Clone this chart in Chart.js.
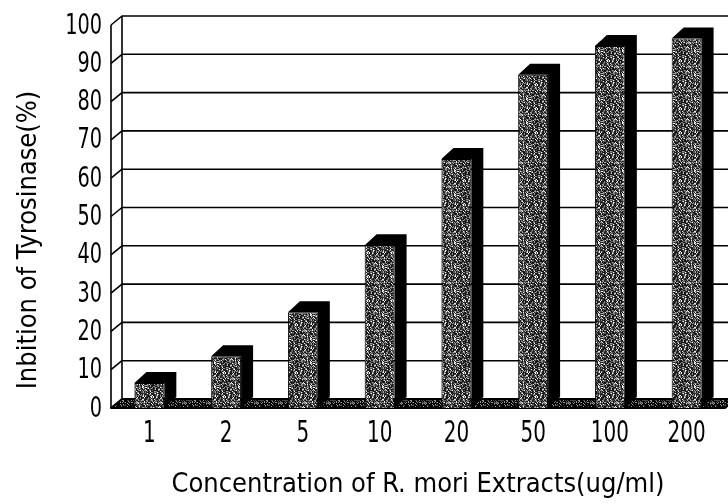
<!DOCTYPE html>
<html>
<head>
<meta charset="utf-8">
<script src="https://cdn.jsdelivr.net/npm/chart.js@4.4.0/dist/chart.umd.min.js"></script>
<style>
    html, body { margin: 0; padding: 0; background: #fff; }
    #wrap { width: 728px; height: 504px; position: relative; }
</style>
</head>
<body>
<div id="wrap"><canvas id="tyrosinase-chart"></canvas></div>
<script>
"use strict";

// data
const concentration_labels = ['1', '2', '5', '10', '20', '50', '100', '200'];
const inhibition_values = [6.5, 13.5, 25, 42.5, 65, 87, 94.5, 96.5];
const y_min = 0;
const y_max = 100;
const y_step = 10;
const x_title = 'Concentration of R. mori Extracts(ug/ml)';
const y_title = 'Inbition of Tyrosinase(%)';

const font_family = "'Liberation Sans Narrow', 'DejaVu Sans Condensed', 'Liberation Sans', sans-serif";

// depth offsets for the 3d look
const wall_dx = 11, wall_dy = -9;
const bar_dx = 12, bar_dy = -11;

// deterministic noise for the stipple texture
function noise (i, j) {
    let h = Math.imul(i, 374761393) + Math.imul(j, 668265263);
    h = Math.imul(h ^ (h >>> 13), 1274126177);
    return ((h ^ (h >>> 16)) >>> 0) % 100;
}

function stipple_pattern (ctx, steps) {
    const c = document.createElement('canvas');
    c.width = 24;
    c.height = 24;
    const g = c.getContext('2d');
    for (let i=0; i<24; i++) {
        for (let j=0; j<24; j++) {
            const v = noise(i, j);
            const step = steps.find((s) => v < s[0]);
            g.fillStyle = step[1];
            g.fillRect(i, j, 1, 1);
        }
    }
    return ctx.createPattern(c, 'repeat');
}

const canvas = document.getElementById('tyrosinase-chart');
const ctx = canvas.getContext('2d');
const face_pattern = stipple_pattern(ctx, [[45, '#1a1a1a'], [70, '#555'], [88, '#999'], [100, '#eee']]);
const floor_pattern = stipple_pattern(ctx, [[60, '#000'], [80, '#444'], [100, '#999']]);

// squeezed text, the original uses a narrow face
function narrow_text (c, text, x, y, size, align) {
    const squeeze = 0.74;
    c.save();
    c.translate(x, y);
    c.scale(squeeze, 1);
    c.font = size + 'px ' + font_family;
    c.textAlign = align;
    c.textBaseline = 'middle';
    c.fillStyle = '#000';
    c.fillText(text, 0, 0);
    c.restore();
}

const depth_plugin = {
    id: 'depth',
    beforeDatasetsDraw (chart) {
        const c = chart.ctx;
        const {left, right, top, bottom} = chart.chartArea;
        const y_scale = chart.scales.y;
        c.save();
        c.strokeStyle = '#000';
        c.lineJoin = 'round';

        // floor
        c.fillStyle = floor_pattern;
        c.lineWidth = 2;
        c.beginPath();
        c.moveTo(left, bottom);
        c.lineTo(left + wall_dx, bottom + wall_dy);
        c.lineTo(right + wall_dx, bottom + wall_dy);
        c.lineTo(right, bottom);
        c.closePath();
        c.fill();
        c.stroke();

        // grid lines on the back wall, joints on the side wall
        c.lineWidth = 1.6;
        y_scale.ticks.forEach((t) => {
            if (t.value <= y_min) return;
            const yf = y_scale.getPixelForValue(t.value);
            c.beginPath();
            c.moveTo(left, yf);
            c.lineTo(left + wall_dx, yf + wall_dy);
            c.lineTo(right + wall_dx, yf + wall_dy);
            c.stroke();
        });

        // side wall edges
        c.beginPath();
        c.moveTo(left, bottom);
        c.lineTo(left, top);
        c.moveTo(left + wall_dx, bottom + wall_dy);
        c.lineTo(left + wall_dx, top + wall_dy);
        c.stroke();

        // bar tops and right sides
        c.fillStyle = '#000';
        chart.getDatasetMeta(0).data.forEach((bar) => {
            const p = bar.getProps(['x', 'y', 'base', 'width'], true);
            const x0 = p.x - p.width / 2;
            const x1 = p.x + p.width / 2;
            c.beginPath();
            c.moveTo(x0, p.y);
            c.lineTo(x0 + bar_dx, p.y + bar_dy);
            c.lineTo(x1 + bar_dx, p.y + bar_dy);
            c.lineTo(x1 + bar_dx, p.base + bar_dy);
            c.lineTo(x1, p.base);
            c.lineTo(x1, p.y);
            c.closePath();
            c.fill();
        });
        c.restore();
    },
    afterDraw (chart) {
        const c = chart.ctx;
        const x_scale = chart.scales.x;
        const y_scale = chart.scales.y;

        // y tick labels
        y_scale.ticks.forEach((t) => {
            const yf = y_scale.getPixelForValue(t.value);
            narrow_text(c, t.label, 102, yf + 1, 29, 'right');
        });

        // x tick labels
        x_scale.ticks.forEach((t, i) => {
            narrow_text(c, concentration_labels[i], x_scale.getPixelForTick(i), 434, 30, 'center');
        });

        // y title
        c.save();
        c.translate(29, 240);
        c.rotate(-Math.PI / 2);
        c.font = '27px ' + font_family;
        c.textAlign = 'center';
        c.textBaseline = 'middle';
        c.fillStyle = '#000';
        c.fillText(y_title, 0, 0);
        c.restore();
    }
};

new Chart(ctx, {
    type: 'bar',
    data: {
        labels: concentration_labels,
        datasets: [{
            label: y_title,
            data: inhibition_values,
            backgroundColor: face_pattern,
            borderColor: '#000',
            borderWidth: 1,
            categoryPercentage: 1,
            barPercentage: 0.39,
        }]
    },
    options: {
        responsive: true,
        maintainAspectRatio: false,
        animation: false,
        devicePixelRatio: 1,
        layout: { padding: { top: 25, right: 3, left: 0, bottom: 0 } },
        plugins: {
            legend: { display: false },
            tooltip: { enabled: false },
        },
        scales: {
            x: {
                grid: { display: false, drawTicks: false },
                border: { display: false },
                ticks: { display: false },
                title: {
                    display: true,
                    text: x_title,
                    color: '#000',
                    font: { family: font_family, size: 27 },
                    padding: { top: 0, bottom: 3 },
                },
                afterFit (scale) { scale.height = 96; },
            },
            y: {
                min: y_min,
                max: y_max,
                grid: { display: false, drawTicks: false },
                border: { display: false },
                ticks: { display: false, stepSize: y_step },
                title: { display: false },
                afterFit (scale) { scale.width = 111; },
            }
        }
    },
    plugins: [depth_plugin]
});
</script>
</body>
</html>
